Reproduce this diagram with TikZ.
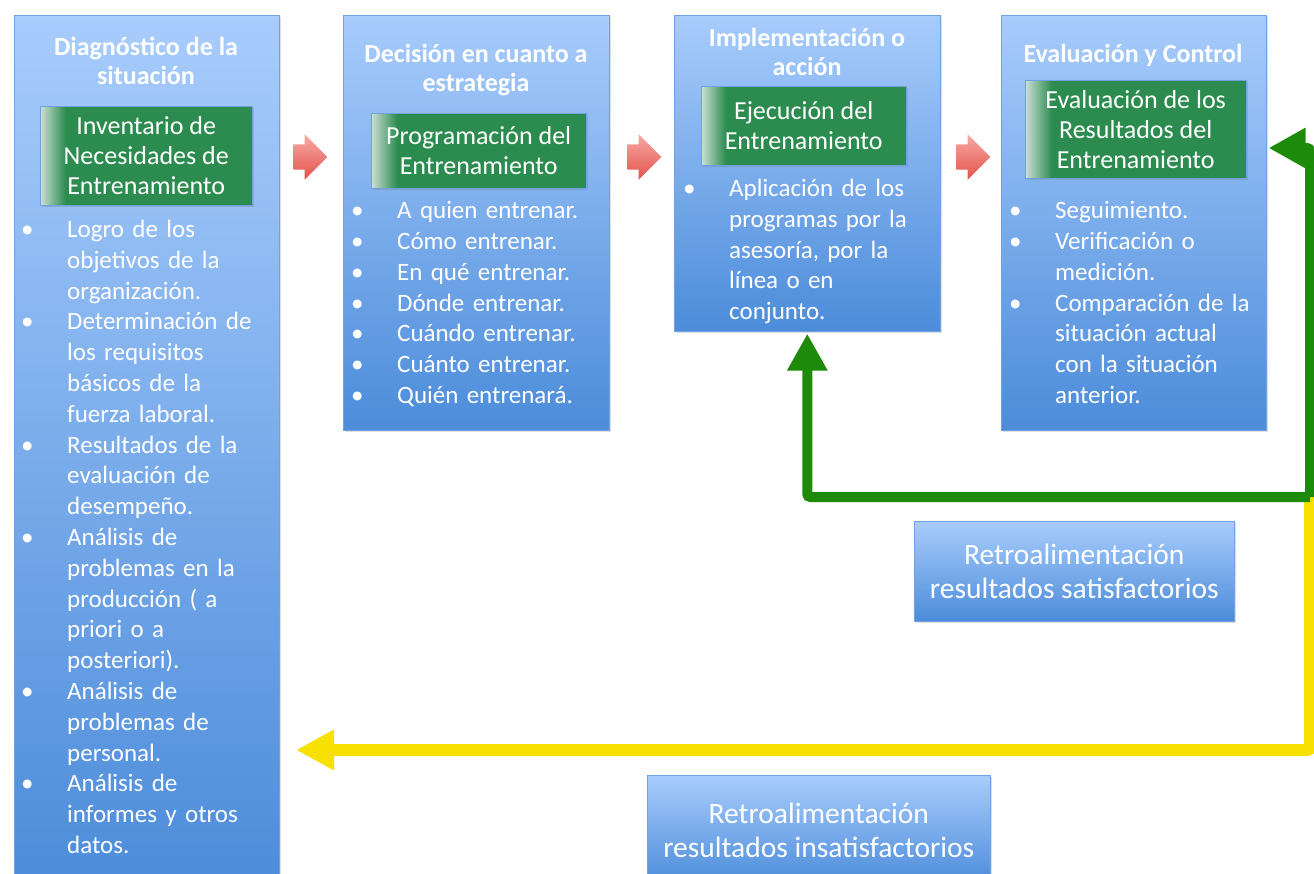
\documentclass[tikz,border=0pt]{standalone}
\usepackage{fontspec}
\setmainfont{Carlito}
\usetikzlibrary{arrows.meta,shapes.arrows,shadows}

\definecolor{boxtop}{RGB}{168,204,252}
\definecolor{boxbot}{RGB}{76,140,218}
\definecolor{boxline}{RGB}{112,162,226}
\definecolor{innergreen}{RGB}{44,140,80}
\definecolor{innerpale}{RGB}{205,222,214}
\definecolor{loopgreen}{RGB}{30,138,10}
\definecolor{loopyellow}{RGB}{248,224,0}
\definecolor{arrtop}{RGB}{248,170,166}
\definecolor{arrbot}{RGB}{226,82,74}

\pgfdeclarehorizontalshading{greenfade}{100bp}{color(0bp)=(innerpale); color(25bp)=(innerpale); color(31bp)=(innergreen); color(100bp)=(innergreen)}

\newcommand{\itm}[1]{\noindent\makebox[46pt][l]{\textbullet}%
  \parbox[t]{220pt}{\raggedright #1\strut}\par\prevdepth=\dp\strutbox}

\tikzset{
  stage/.style={draw=boxline, line width=0.6pt, top color=boxtop, bottom color=boxbot,
    anchor=north west, inner sep=0pt,
    drop shadow={opacity=0.25, shadow xshift=2pt, shadow yshift=-2pt}},
  task/.style={draw=boxline, line width=0.4pt, shading=greenfade, text=white,
    inner sep=0pt, anchor=north west, align=center, font=\fontsize{26}{30}\selectfont,
    drop shadow={opacity=0.3, shadow xshift=1.5pt, shadow yshift=-1.5pt}},
  title/.style={text=white, align=center, font=\fontsize{26}{28.5}\selectfont\bfseries},
  list/.style={text=white, anchor=north west, inner sep=0pt, text width=260pt,
    font=\fontsize{25}{30.8}\selectfont},
  next/.style={single arrow, single arrow head extend=10pt, single arrow head indent=0pt,
    minimum height=34pt, inner xsep=0pt, inner ysep=12.5pt,
    top color=arrtop, bottom color=arrbot, draw=none},
  retro/.style={stage, text=white, align=center, font=\fontsize{29.5}{34}\selectfont},
  okloop/.style={draw=loopgreen, line width=10pt, rounded corners=3pt,
    -{Triangle[length=37pt,width=38pt]}},
  badloop/.style={draw=loopyellow, line width=12pt, rounded corners=3pt,
    -{Triangle[length=38pt,width=38pt]}}
}

\begin{document}
\begin{tikzpicture}[x=1pt,y=-1pt]
  \useasboundingbox (0,0) rectangle (1314,873);

  % stages
  \node[stage, minimum width=265pt, minimum height=875pt] (B1) at (14,15) {};
  \node[stage, minimum width=266pt, minimum height=415pt] (B2) at (343,15) {};
  \node[stage, minimum width=266pt, minimum height=316pt] (B3) at (674,15) {};
  \node[stage, minimum width=265pt, minimum height=415pt] (B4) at (1001,15) {};

  \node[title] (T1) at (146,61) {Diagnóstico de la\\situación};
  \node[title] (T2) at (476,70) {Decisión en cuanto a\\estrategia};
  \node[title] (T3) at (807,52) {Implementación o\\acción};
  \node[title] (T4) at (1133,55) {Evaluación y Control};

  \node[task, minimum width=212pt, minimum height=99pt] (G1) at (40,106)
    {Inventario de\\Necesidades de\\Entrenamiento};
  \node[task, minimum width=215pt, minimum height=75pt] (G2) at (371,113)
    {Programación del\\Entrenamiento};
  \node[task, minimum width=205pt, minimum height=79pt] (G3) at (701,86)
    {Ejecución del\\Entrenamiento};
  \node[task, minimum width=221pt, minimum height=98pt] (G4) at (1025,80)
    {Evaluación de los\\Resultados del\\Entrenamiento};

  \node[list] (L1) at (21,220) {%
    \itm{Logro de los\\objetivos de la\\organización.}
    \itm{Determinación de\\los requisitos\\básicos de la\\fuerza laboral.}
    \itm{Resultados de la\\evaluación de\\desempeño.}
    \itm{Análisis de\\problemas en la\\producción ( a\\priori o a\\posteriori).}
    \itm{Análisis de\\problemas de\\personal.}
    \itm{Análisis de\\informes y otros\\datos.}};
  \node[list] (L2) at (351,197) {%
    \itm{A quien entrenar.}
    \itm{Cómo entrenar.}
    \itm{En qué entrenar.}
    \itm{Dónde entrenar.}
    \itm{Cuándo entrenar.}
    \itm{Cuánto entrenar.}
    \itm{Quién entrenará.}};
  \node[list] (L3) at (683,179) {%
    \itm{Aplicación de los\\programas por la\\asesoría, por la\\línea o en\\conjunto.}};
  \node[list] (L4) at (1009,197) {%
    \itm{Seguimiento.}
    \itm{Verificación o\\medición.}
    \itm{Comparación de la\\situación actual\\con la situación\\anterior.}};

  % arrows between stages
  \node[next] (N1) at (304,157) {};
  \node[next] (N2) at (638,157) {};
  \node[next] (N3) at (967,157) {};

  % feedback
  \node[retro, minimum width=320pt, minimum height=100pt] (R1) at (914,521)
    {Retroalimentación\\resultados satisfactorios};
  \node[retro, minimum width=343pt, minimum height=110pt] (R2) at (647,775)
    {Retroalimentación\\resultados insatisfactorios};

  \coordinate (turn) at (1310,497);
  \coordinate (ytip) at (296,750);
  \draw[badloop] (turn) |- (ytip);
  \draw[okloop] (turn) |- ([yshift=-133pt,xshift=2pt]B4.north east);
  \draw[okloop] (turn) -| ([yshift=-2pt]B3.south);
\end{tikzpicture}
\end{document}
